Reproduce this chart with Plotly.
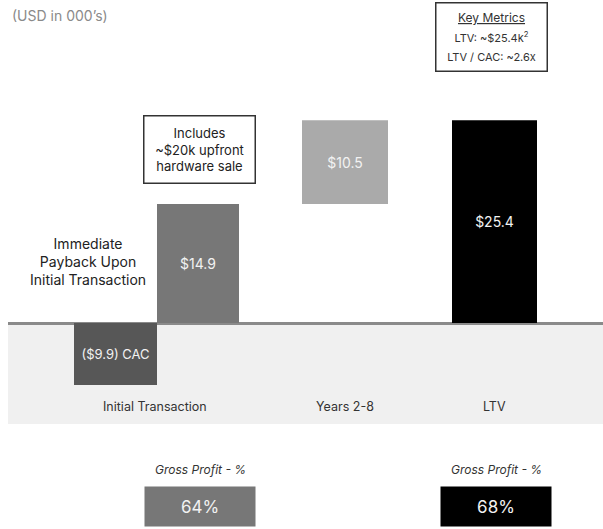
import plotly.graph_objects as go

# ---- data ----
categories = ["Initial Transaction", "Years 2-8", "LTV"]
cac_value = -9.9
cac_label = "($9.9) CAC"
step_names = ["Initial Transaction", "Years 2-8", "LTV"]
step_values = [14.9, 10.5, 25.4]
gross_profit_labels = ["Gross Profit - %", "Gross Profit - %"]
gross_profit_values = [64, 68]
key_metrics = ["LTV: ~$25.4k<sup>2</sup>", "LTV / CAC: ~2.6x"]

# ---- layout constants (pixels in a 603x529 canvas) ----
W, H = 603, 529
ML, MB = 8, 105
PLOT_W = W - ML
PLOT_H = H - MB
ZERO_PX = 323
PX_PER_UNIT = 7.98
CAC_PX_PER_UNIT = 6.26   # CAC bar is drawn on its own (compressed) scale

BAR_X = [198, 345, 494.5]
BAR_W = [82, 86, 85]
BAR_COLORS = ["#777777", "#aaaaaa", "#000000"]
CAC_X, CAC_W, CAC_COLOR = 115.5, 83, "#575757"
CAT_X = [155, 345, 494]
GP_X = [200, 496]
GP_COLORS = ["#777777", "#000000"]
FONT = "Inter"


def xd(px):
    return px - ML


def yd(px):
    return (ZERO_PX - px) / PX_PER_UNIT


def note(px, py, text, **kw):
    # annotation placed by canvas pixel, centred on that point
    d = dict(
        x=(px - ML) / PLOT_W, y=(PLOT_H - py) / PLOT_H,
        xref="paper", yref="paper", xanchor="center", yanchor="middle",
        text=text, showarrow=False
    )
    d.update(kw)
    return d


# waterfall bases: years 2-8 floats on top of the initial payback
bases = [0, step_values[0], 0]

fig = go.Figure()

fig.add_trace(go.Bar(
    x=[xd(v) for v in BAR_X],
    y=step_values,
    base=bases,
    width=BAR_W,
    marker=dict(color=BAR_COLORS, line=dict(width=0)),
    text=[f"${v:.1f}" for v in step_values],
    textposition="inside",
    insidetextanchor="middle",
    textangle=0,
    textfont=dict(family=FONT, size=14, color="#f2f2f2"),
    hoverinfo="skip",
    showlegend=False
))

fig.add_trace(go.Bar(
    x=[xd(CAC_X)],
    y=[cac_value],
    width=[CAC_W],
    marker=dict(color=CAC_COLOR, line=dict(width=0)),
    text=[cac_label],
    textposition="inside",
    insidetextanchor="middle",
    textangle=0,
    textfont=dict(family=FONT, size=13, color="#f2f2f2"),
    yaxis="y2",
    hoverinfo="skip",
    showlegend=False
))

# light grey band below the zero line
fig.add_shape(
    type="rect", xref="paper", yref="y",
    x0=0, x1=1, y0=0, y1=yd(PLOT_H),
    fillcolor="#f0f0f0", line=dict(width=0), layer="below"
)

annotations = []

# category labels inside the band
for name, cx in zip(categories, CAT_X):
    annotations.append(note(cx, 406, name, font=dict(family=FONT, size=12.5, color="#333333")))

annotations.append(note(10, 16, "(USD in 000’s)", xanchor="left",
                        font=dict(family=FONT, size=14, color="#8a8a8a")))

annotations.append(note(88, 261, "Immediate<br>Payback Upon<br>Initial Transaction",
                        font=dict(family=FONT, size=14, color="#222222")))

annotations.append(note(
    199, 149.5, "Includes<br>~$20k upfront<br>hardware sale",
    width=110, height=66, borderpad=0, borderwidth=1.5,
    bordercolor="#333333", bgcolor="white",
    font=dict(family=FONT, size=13, color="#222222")
))

km_text = "<span style='font-size:12px'><u>Key Metrics</u></span>" + "".join(
    f"<br><span style='font-size:11px'>{m}</span>" for m in key_metrics
)
annotations.append(note(
    491, 37, km_text,
    width=110, height=67, borderpad=0, borderwidth=1.5,
    bordercolor="#333333", bgcolor="white",
    font=dict(family=FONT, size=15, color="#333333")
))

for lbl, val, gx, gc in zip(gross_profit_labels, gross_profit_values, GP_X, GP_COLORS):
    annotations.append(note(gx, 469, f"<i>{lbl}</i>",
                            font=dict(family=FONT, size=12, color="#333333")))
    annotations.append(note(
        gx, 506.5, f"{val}%",
        width=110, height=39, borderpad=0, bgcolor=gc,
        font=dict(family=FONT, size=17, color="#f2f2f2")
    ))

fig.update_layout(
    width=W, height=H,
    margin=dict(l=ML, r=0, t=0, b=MB),
    paper_bgcolor="white", plot_bgcolor="rgba(0,0,0,0)",
    barmode="overlay",
    xaxis=dict(range=[0, PLOT_W], visible=False, fixedrange=True),
    yaxis=dict(
        range=[yd(PLOT_H), yd(0)],
        showgrid=False, showticklabels=False,
        zeroline=True, zerolinecolor="#8a8a8a", zerolinewidth=2.5,
        fixedrange=True
    ),
    yaxis2=dict(
        overlaying="y",
        range=[(ZERO_PX - PLOT_H) / CAC_PX_PER_UNIT, ZERO_PX / CAC_PX_PER_UNIT],
        visible=False, fixedrange=True
    ),
    annotations=annotations,
    font=dict(family=FONT)
)

# the page's default 8px body margin would shift the figure off the canvas
fig.write_html("out.html", config={"displayModeBar": False},
               post_script="document.body.style.margin='0';")
